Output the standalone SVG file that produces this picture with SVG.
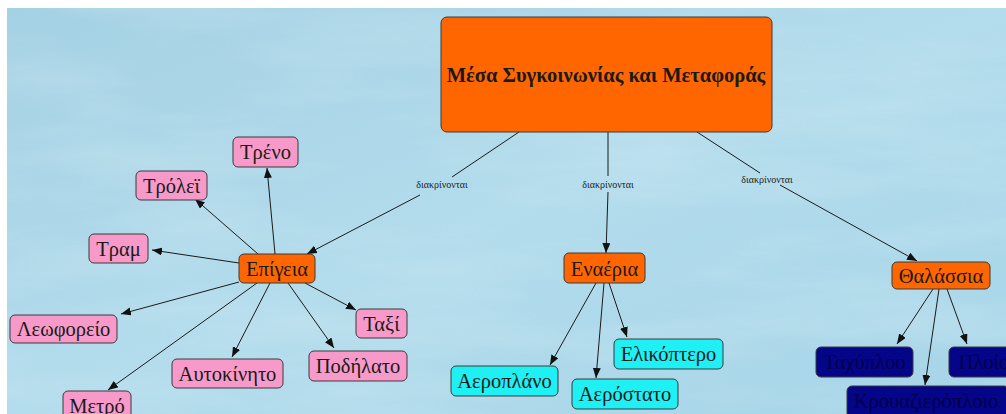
<svg xmlns="http://www.w3.org/2000/svg" width="1006" height="414" viewBox="0 0 1006 414">
<style>
.n rect{stroke:#3a3a3a;stroke-width:1}
.org{fill:#ff6600}
.pk{fill:#f79ac9}
.cy{fill:#1ef0f4}
.nv{fill:#05058a}
text{font-family:"Liberation Serif","DejaVu Serif",serif;text-anchor:middle;fill:#1a1a1a}
.t{font-size:20.5px}
.nvt{fill:#00004a}
.lbl{font-size:10px;fill:#222}
.ln{stroke:#1a1a1a;stroke-width:1;fill:none}
.ar{marker-end:url(#ah)}
</style>
<defs>
<marker id="ah" markerUnits="userSpaceOnUse" markerWidth="11" markerHeight="9" refX="10" refY="4" orient="auto">
<path d="M0,0 L10,4 L0,8 Z" fill="#111"/>
</marker>
<linearGradient id="bg" x1="0" y1="0" x2="1" y2="1">
<stop offset="0" stop-color="#a4d1e4"/>
<stop offset="0.5" stop-color="#b3dcec"/>
<stop offset="1" stop-color="#a6d5e8"/>
</linearGradient>
<filter id="cloud" x="0" y="0" width="1" height="1">
<feTurbulence type="fractalNoise" baseFrequency="0.004 0.02" numOctaves="4" seed="7"/>
<feColorMatrix type="matrix" values="0 0 0 0 1  0 0 0 0 1  0 0 0 0 1  0 0 0 0.55 -0.22"/>
</filter>
</defs>
<rect width="1006" height="414" fill="#ffffff"/>
<rect x="7" y="8" width="999" height="406" fill="url(#bg)"/>
<rect x="7" y="8" width="999" height="406" filter="url(#cloud)" opacity="0.6"/>

<g id="connectors">
<path class="ln" d="M519,132 L452,177"/>
<path class="ln ar" d="M420,195 L307,254"/>
<path class="ln" d="M608,132 L608,176"/>
<path class="ln ar" d="M608,192 L606,253"/>
<path class="ln" d="M697,132 L760,173"/>
<path class="ln ar" d="M780,185 L917,261"/>
<path class="ln ar" d="M275,254 L267,168"/>
<path class="ln ar" d="M258,254 L195,199"/>
<path class="ln ar" d="M239,263 L152,250"/>
<path class="ln ar" d="M239,282 L121,314"/>
<path class="ln ar" d="M257,283 L108,390"/>
<path class="ln ar" d="M270,283 L232,357"/>
<path class="ln ar" d="M288,283 L334,348"/>
<path class="ln ar" d="M305,283 L356,310"/>
<path class="ln ar" d="M596,283 L550,365"/>
<path class="ln ar" d="M604,283 L596,378"/>
<path class="ln ar" d="M609,283 L627,337"/>
<path class="ln ar" d="M933,289 L897,344"/>
<path class="ln ar" d="M939,289 L925,385"/>
<path class="ln ar" d="M947,289 L967,344"/>
<text class="lbl" x="442" y="188">διακρίνονται</text>
<text class="lbl" x="608" y="188">διακρίνονται</text>
<text class="lbl" x="767" y="183">διακρίνονται</text>
</g>

<g id="main" class="n"><rect class="org" x="441" y="17" width="331" height="115" rx="6"/><text x="606" y="82" style="font-size:20.5px;font-weight:bold">Μέσα Συγκοινωνίας και Μεταφοράς</text></g>

<g id="epigeia" class="n"><rect class="org" x="239" y="254" width="76" height="29" rx="5"/><text class="t" x="277" y="275.5">Επίγεια</text></g>
<g id="enaeria" class="n"><rect class="org" x="564" y="253" width="81" height="30" rx="5"/><text class="t" x="604.5" y="275.5">Εναέρια</text></g>
<g id="thalassia" class="n"><rect class="org" x="892" y="262" width="98" height="27" rx="5"/><text class="t" x="941" y="282.5">Θαλάσσια</text></g>

<g id="treno" class="n"><rect class="pk" x="233" y="137" width="65" height="30" rx="5"/><text class="t" x="265.5" y="158.5">Τρένο</text></g>
<g id="trolei" class="n"><rect class="pk" x="136" y="171" width="71" height="29" rx="5"/><text class="t" x="171.5" y="192.5">Τρόλεϊ</text></g>
<g id="tram" class="n"><rect class="pk" x="89" y="234" width="59" height="29" rx="5"/><text class="t" x="118.5" y="255.5">Τραμ</text></g>
<g id="leoforeio" class="n"><rect class="pk" x="10" y="315" width="107" height="28" rx="5"/><text class="t" x="63.5" y="335.5">Λεωφορείο</text></g>
<g id="taxi" class="n"><rect class="pk" x="356" y="309" width="51" height="29" rx="5"/><text class="t" x="381.5" y="330.5">Ταξί</text></g>
<g id="podilato" class="n"><rect class="pk" x="309" y="351" width="98" height="30" rx="5"/><text class="t" x="358" y="372.5">Ποδήλατο</text></g>
<g id="aftokinito" class="n"><rect class="pk" x="172" y="359" width="111" height="29" rx="5"/><text class="t" x="227.5" y="380.5">Αυτοκίνητο</text></g>
<g id="metro" class="n"><rect class="pk" x="63" y="391" width="68" height="30" rx="5"/><text class="t" x="97" y="412.5">Μετρό</text></g>

<g id="elikoptero" class="n"><rect class="cy" x="614" y="339" width="109" height="30" rx="5"/><text class="t" x="668.5" y="360.5">Ελικόπτερο</text></g>
<g id="aeroplano" class="n"><rect class="cy" x="451" y="366" width="107" height="30" rx="5"/><text class="t" x="504.5" y="387.5">Αεροπλάνο</text></g>
<g id="aerostato" class="n"><rect class="cy" x="572" y="379" width="106" height="30" rx="5"/><text class="t" x="625" y="400.5">Αερόστατο</text></g>

<g id="taxyploo" class="n"><rect class="nv" x="816" y="347" width="97" height="30" rx="5"/><text class="t nvt" x="864.5" y="368.5">Ταχύπλοο</text></g>
<g id="ploio" class="n"><rect class="nv" x="949" y="347" width="70" height="30" rx="5"/><text class="t nvt" x="984" y="368.5">Πλοίο</text></g>
<g id="krouaziero" class="n"><rect class="nv" x="847" y="386" width="162" height="32" rx="5"/><text class="t nvt" x="926" y="407.5">Κρουαζιερόπλοιο</text></g>
</svg>
